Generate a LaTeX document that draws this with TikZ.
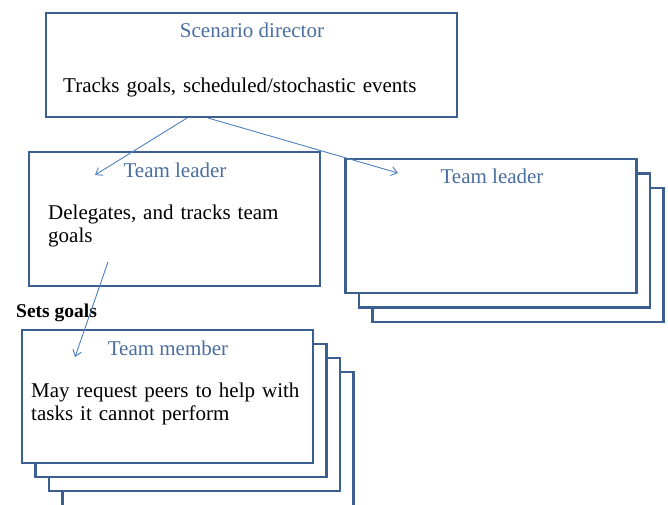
\documentclass[tikz,border=0pt]{standalone}
\usepackage{fontspec}
\setmainfont{Liberation Serif}
\usetikzlibrary{arrows.meta}
\definecolor{boxblue}{HTML}{3C5F8F}
\definecolor{titleblue}{HTML}{4A6EA0}
\definecolor{arrowblue}{HTML}{4F81BD}

\begin{document}
\begin{tikzpicture}[x=1pt,y=-1pt,
  card/.style={draw=boxblue,line width=2.9pt,fill=white,inner sep=0pt,
    minimum width=291pt,minimum height=134pt},
  title/.style={text=titleblue,anchor=base,inner sep=0pt,font=\fontsize{21}{24}\selectfont},
  body/.style={anchor=base west,inner sep=0pt,text width=400pt,align=left,
    font=\fontsize{21}{23.5}\selectfont},
  link/.style={draw=arrowblue,line width=0.9pt,-{Straight Barb[length=6pt,width=9pt]}}]
  \clip (0,0) rectangle (668,504);
  \fill[white] (0,0) rectangle (668,504);
  % scenario director
  \node[card,minimum width=411pt,minimum height=104pt] (director) at (251.5,65) {};
  \node[title] (director-title) at (252,37) {Scenario director};
  \node[body] (director-text) at (63,92) {Tracks goals, scheduled/stochastic events};
  % team leaders
  \node[card] (leader1) at (174.5,219) {};
  \node[title] (leader1-title) at (175,177) {Team leader};
  \node[body] (leader1-text) at (48,219) {Delegates, and tracks team\\goals};
  \foreach \i in {2,1,0}
    \node[card] (leader2-\i) at (491+13.5*\i,226+14.5*\i) {};
  \node[title] (leader2-title) at (492,183) {Team leader};
  % team members
  \node[card,minimum height=150pt] (member-3) at (208,447) {};
  \foreach \i in {2,1,0}
    \node[card,minimum height=133pt] (member-\i) at (167.5+13.5*\i,396.5+14*\i) {};
  \node[title] (member-title) at (168,355) {Team member};
  \node[body] (member-text) at (31,397) {May request peers to help with\\tasks it cannot perform};
  \node[anchor=base west,inner sep=0pt,font=\fontsize{19.5}{22}\selectfont\bfseries] (sets-goals) at (16,317) {Sets goals};
  % connectors
  \coordinate (director-out1) at (187,118);
  \coordinate (director-out2) at (208,118);
  \coordinate (leader1-in) at (95,175);
  \coordinate (leader2-in) at (398,173);
  \coordinate (leader1-out) at (108,262);
  \coordinate (member-in) at (75,357);
  \draw[link] (director-out1) -- (leader1-in);
  \draw[link] (director-out2) -- (leader2-in);
  \draw[link] (leader1-out) -- (member-in);
\end{tikzpicture}
\end{document}
